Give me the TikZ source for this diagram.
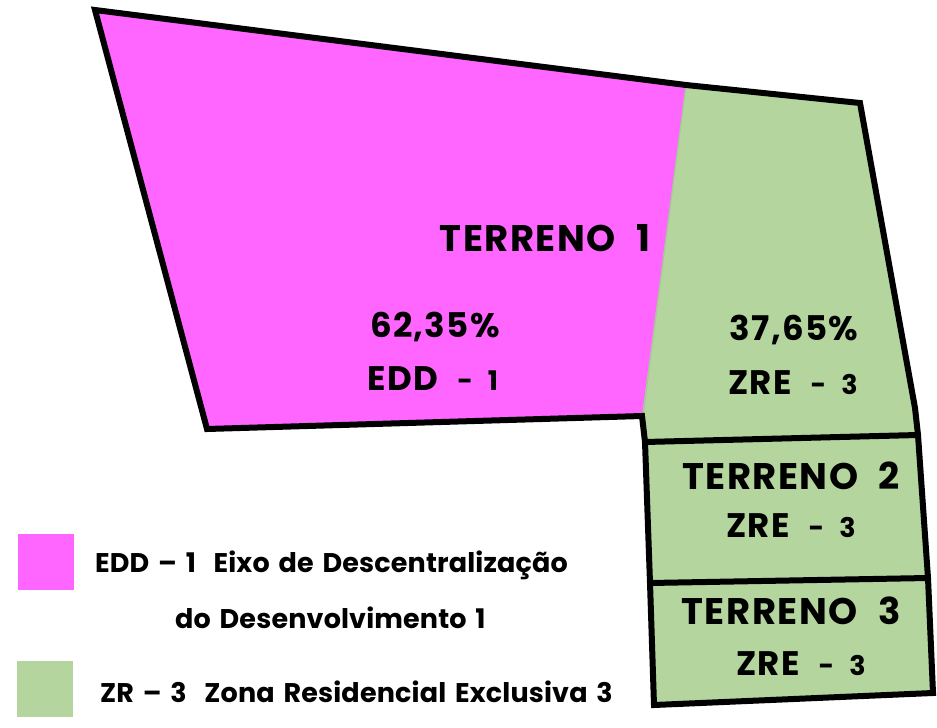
\documentclass[tikz,border=0pt]{standalone}
\usepackage{fontspec}
\setmainfont{Poppins}
\newfontfamily\labfont{Poppins}[LetterSpace=4,WordSpace=2.2]
\newfontfamily\legfont{Poppins}[LetterSpace=0.6,WordSpace=1.5]
\definecolor{edd}{HTML}{FF66FF}
\definecolor{zre}{HTML}{B4D69E}
\definecolor{zreline}{HTML}{A9C796}
\begin{document}
\begin{tikzpicture}[x=1pt,y=-1pt,
  outline/.style={draw=black,line width=6pt,line join=miter},
  big/.style={font=\labfont\fontsize{37}{40}\selectfont\bfseries,inner sep=0pt},
  mid/.style={font=\labfont\fontsize{34}{38}\selectfont\bfseries,inner sep=0pt},
  leg/.style={font=\legfont\fontsize{27}{30}\selectfont\bfseries,inner sep=0pt,anchor=west}]
\useasboundingbox (0,0) rectangle (937,728);
% fills
\fill[edd] (95,10) -- (686,85) -- (643,416) -- (207,429) -- cycle;
\fill[zre] (686,85) -- (860,103) -- (915,408) -- (918,435) -- (928,578) -- (933,693) -- (654,705) -- (650,583) -- (645,442) -- (642,416) -- cycle;
\draw[zreline,line width=1.2pt] (686,85) -- (643,416);
% outline
\draw[outline] (95,10) -- (686,85) -- (860,103) -- (915,408) -- (918,435) -- (928,578) -- (933,693) -- (654,705) -- (650,583) -- (645,442) -- (642,416) -- (207,429) -- cycle;
\draw[outline] (645,442) -- (918,435);
\draw[outline] (650,583) -- (928,578);
% labels
\node[big] (t1) at (545,238) {TERRENO 1};
\node[mid] (p1) at (435,327) {62,35\%};
\node[mid] (e1) at (433,379) {EDD {\fontsize{27}{30}\selectfont - 1}};
\node[mid] (p2) at (794,330) {37,65\%};
\node[mid] (z1) at (793,383) {ZRE {\fontsize{27}{30}\selectfont - 3}};
\node[big] (t2) at (791,476) {TERRENO 2};
\node[mid] (z2) at (791,526) {ZRE {\fontsize{27}{30}\selectfont - 3}};
\node[big] (t3) at (791,611) {TERRENO 3};
\node[mid] (z3) at (801,664) {ZRE {\fontsize{27}{30}\selectfont - 3}};
% legend
\fill[edd] (18,534) rectangle (74,590);
\fill[zre] (17,661) rectangle (73,717);
\node[leg] (l1) at (95,565) {EDD – 1\ \ Eixo de Descentralização};
\node[leg] (l2) at (175,618) {do Desenvolvimento 1};
\node[leg] (l3) at (100,692) {ZR – 3\ \ Zona Residencial Exclusiva 3};
\end{tikzpicture}
\end{document}
